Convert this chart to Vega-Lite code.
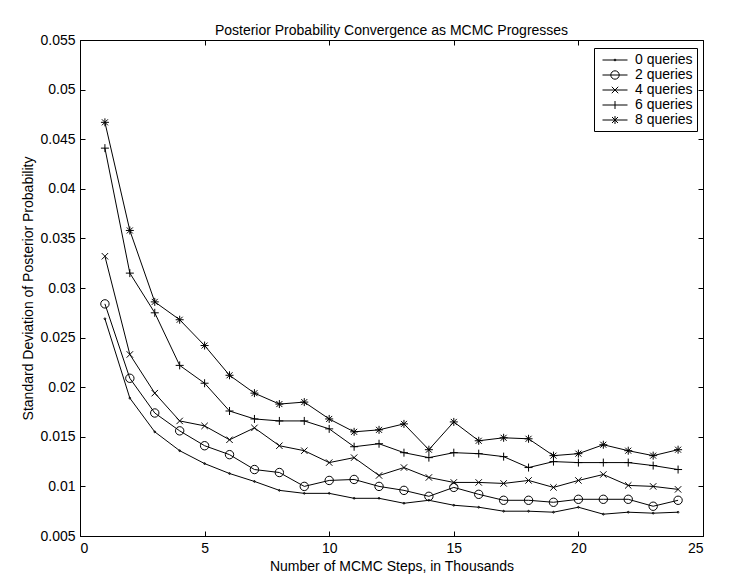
{
  "$schema": "https://vega.github.io/schema/vega-lite/v6.json",
  "width": 623,
  "height": 496,
  "autosize": {"type": "none"},
  "padding": {"left": 80, "top": 40, "right": 30, "bottom": 45},
  "background": "white",
  "title": {"text": "Posterior Probability Convergence as MCMC Progresses", "font": "Liberation Sans", "fontSize": 14, "fontWeight": "normal", "color": "black", "anchor": "middle", "offset": -5},
  "config": {
    "view": {"stroke": "black", "strokeWidth": 1},
    "axis": {"domainColor": "black", "tickColor": "black", "tickSize": -5, "grid": false, "labelFont": "Liberation Sans", "labelFontSize": 14, "labelColor": "black", "labelPadding": 10, "titleFont": "Liberation Sans", "titleFontSize": 14, "titleFontWeight": "normal", "titleColor": "black"}
  },
  "data": {"values": [
    {"steps": 1, "q": "0 queries", "sd": 0.0269}, {"steps": 2, "q": "0 queries", "sd": 0.0189}, {"steps": 3, "q": "0 queries", "sd": 0.0155}, {"steps": 4, "q": "0 queries", "sd": 0.0136}, {"steps": 5, "q": "0 queries", "sd": 0.0123}, {"steps": 6, "q": "0 queries", "sd": 0.0113}, {"steps": 7, "q": "0 queries", "sd": 0.0105}, {"steps": 8, "q": "0 queries", "sd": 0.0096}, {"steps": 9, "q": "0 queries", "sd": 0.0093}, {"steps": 10, "q": "0 queries", "sd": 0.0093}, {"steps": 11, "q": "0 queries", "sd": 0.0088}, {"steps": 12, "q": "0 queries", "sd": 0.0088}, {"steps": 13, "q": "0 queries", "sd": 0.0083}, {"steps": 14, "q": "0 queries", "sd": 0.0086}, {"steps": 15, "q": "0 queries", "sd": 0.0081}, {"steps": 16, "q": "0 queries", "sd": 0.0079}, {"steps": 17, "q": "0 queries", "sd": 0.0075}, {"steps": 18, "q": "0 queries", "sd": 0.0075}, {"steps": 19, "q": "0 queries", "sd": 0.0074}, {"steps": 20, "q": "0 queries", "sd": 0.0079}, {"steps": 21, "q": "0 queries", "sd": 0.0072}, {"steps": 22, "q": "0 queries", "sd": 0.0074}, {"steps": 23, "q": "0 queries", "sd": 0.0073}, {"steps": 24, "q": "0 queries", "sd": 0.0074},
    {"steps": 1, "q": "2 queries", "sd": 0.0284}, {"steps": 2, "q": "2 queries", "sd": 0.0209}, {"steps": 3, "q": "2 queries", "sd": 0.0174}, {"steps": 4, "q": "2 queries", "sd": 0.0156}, {"steps": 5, "q": "2 queries", "sd": 0.0141}, {"steps": 6, "q": "2 queries", "sd": 0.0132}, {"steps": 7, "q": "2 queries", "sd": 0.0117}, {"steps": 8, "q": "2 queries", "sd": 0.0114}, {"steps": 9, "q": "2 queries", "sd": 0.0100}, {"steps": 10, "q": "2 queries", "sd": 0.0106}, {"steps": 11, "q": "2 queries", "sd": 0.0107}, {"steps": 12, "q": "2 queries", "sd": 0.0100}, {"steps": 13, "q": "2 queries", "sd": 0.0096}, {"steps": 14, "q": "2 queries", "sd": 0.0090}, {"steps": 15, "q": "2 queries", "sd": 0.0099}, {"steps": 16, "q": "2 queries", "sd": 0.0092}, {"steps": 17, "q": "2 queries", "sd": 0.0086}, {"steps": 18, "q": "2 queries", "sd": 0.0086}, {"steps": 19, "q": "2 queries", "sd": 0.0084}, {"steps": 20, "q": "2 queries", "sd": 0.0087}, {"steps": 21, "q": "2 queries", "sd": 0.0087}, {"steps": 22, "q": "2 queries", "sd": 0.0087}, {"steps": 23, "q": "2 queries", "sd": 0.0080}, {"steps": 24, "q": "2 queries", "sd": 0.0086},
    {"steps": 1, "q": "4 queries", "sd": 0.0332}, {"steps": 2, "q": "4 queries", "sd": 0.0233}, {"steps": 3, "q": "4 queries", "sd": 0.0194}, {"steps": 4, "q": "4 queries", "sd": 0.0166}, {"steps": 5, "q": "4 queries", "sd": 0.0161}, {"steps": 6, "q": "4 queries", "sd": 0.0147}, {"steps": 7, "q": "4 queries", "sd": 0.0159}, {"steps": 8, "q": "4 queries", "sd": 0.0141}, {"steps": 9, "q": "4 queries", "sd": 0.0136}, {"steps": 10, "q": "4 queries", "sd": 0.0124}, {"steps": 11, "q": "4 queries", "sd": 0.0129}, {"steps": 12, "q": "4 queries", "sd": 0.0111}, {"steps": 13, "q": "4 queries", "sd": 0.0119}, {"steps": 14, "q": "4 queries", "sd": 0.0109}, {"steps": 15, "q": "4 queries", "sd": 0.0104}, {"steps": 16, "q": "4 queries", "sd": 0.0104}, {"steps": 17, "q": "4 queries", "sd": 0.0103}, {"steps": 18, "q": "4 queries", "sd": 0.0106}, {"steps": 19, "q": "4 queries", "sd": 0.0099}, {"steps": 20, "q": "4 queries", "sd": 0.0106}, {"steps": 21, "q": "4 queries", "sd": 0.0112}, {"steps": 22, "q": "4 queries", "sd": 0.0101}, {"steps": 23, "q": "4 queries", "sd": 0.0100}, {"steps": 24, "q": "4 queries", "sd": 0.0097},
    {"steps": 1, "q": "6 queries", "sd": 0.0441}, {"steps": 2, "q": "6 queries", "sd": 0.0315}, {"steps": 3, "q": "6 queries", "sd": 0.0275}, {"steps": 4, "q": "6 queries", "sd": 0.0222}, {"steps": 5, "q": "6 queries", "sd": 0.0204}, {"steps": 6, "q": "6 queries", "sd": 0.0176}, {"steps": 7, "q": "6 queries", "sd": 0.0168}, {"steps": 8, "q": "6 queries", "sd": 0.0166}, {"steps": 9, "q": "6 queries", "sd": 0.0166}, {"steps": 10, "q": "6 queries", "sd": 0.0158}, {"steps": 11, "q": "6 queries", "sd": 0.0140}, {"steps": 12, "q": "6 queries", "sd": 0.0143}, {"steps": 13, "q": "6 queries", "sd": 0.0134}, {"steps": 14, "q": "6 queries", "sd": 0.0129}, {"steps": 15, "q": "6 queries", "sd": 0.0134}, {"steps": 16, "q": "6 queries", "sd": 0.0133}, {"steps": 17, "q": "6 queries", "sd": 0.0130}, {"steps": 18, "q": "6 queries", "sd": 0.0119}, {"steps": 19, "q": "6 queries", "sd": 0.0125}, {"steps": 20, "q": "6 queries", "sd": 0.0124}, {"steps": 21, "q": "6 queries", "sd": 0.0124}, {"steps": 22, "q": "6 queries", "sd": 0.0124}, {"steps": 23, "q": "6 queries", "sd": 0.0121}, {"steps": 24, "q": "6 queries", "sd": 0.0117},
    {"steps": 1, "q": "8 queries", "sd": 0.0467}, {"steps": 2, "q": "8 queries", "sd": 0.0358}, {"steps": 3, "q": "8 queries", "sd": 0.0286}, {"steps": 4, "q": "8 queries", "sd": 0.0268}, {"steps": 5, "q": "8 queries", "sd": 0.0242}, {"steps": 6, "q": "8 queries", "sd": 0.0212}, {"steps": 7, "q": "8 queries", "sd": 0.0194}, {"steps": 8, "q": "8 queries", "sd": 0.0183}, {"steps": 9, "q": "8 queries", "sd": 0.0185}, {"steps": 10, "q": "8 queries", "sd": 0.0168}, {"steps": 11, "q": "8 queries", "sd": 0.0155}, {"steps": 12, "q": "8 queries", "sd": 0.0157}, {"steps": 13, "q": "8 queries", "sd": 0.0163}, {"steps": 14, "q": "8 queries", "sd": 0.0137}, {"steps": 15, "q": "8 queries", "sd": 0.0165}, {"steps": 16, "q": "8 queries", "sd": 0.0146}, {"steps": 17, "q": "8 queries", "sd": 0.0149}, {"steps": 18, "q": "8 queries", "sd": 0.0148}, {"steps": 19, "q": "8 queries", "sd": 0.0131}, {"steps": 20, "q": "8 queries", "sd": 0.0133}, {"steps": 21, "q": "8 queries", "sd": 0.0142}, {"steps": 22, "q": "8 queries", "sd": 0.0136}, {"steps": 23, "q": "8 queries", "sd": 0.0131}, {"steps": 24, "q": "8 queries", "sd": 0.0137}
  ]},
  "layer": [
    {
      "mark": {"type": "line", "color": "black", "strokeWidth": 1},
      "encoding": {
        "x": {"field": "steps", "type": "quantitative", "scale": {"domain": [0, 25], "nice": false, "zero": false}, "axis": {"orient": "bottom", "values": [0, 5, 10, 15, 20, 25], "title": "Number of MCMC Steps, in Thousands", "titlePadding": 4}},
        "y": {"field": "sd", "type": "quantitative", "scale": {"domain": [0.005, 0.055], "nice": false, "zero": false}, "axis": {"orient": "left", "values": [0.005, 0.01, 0.015, 0.02, 0.025, 0.03, 0.035, 0.04, 0.045, 0.05, 0.055], "format": "~g", "title": "Standard Deviation of Posterior Probability", "titlePadding": 4}},
        "detail": {"field": "q"}
      }
    },
    {
      "mark": {"type": "point", "filled": false, "color": "black", "stroke": "black", "strokeWidth": 1, "size": 64, "opacity": 1},
      "encoding": {
        "x": {"field": "steps", "type": "quantitative", "axis": {"orient": "top", "values": [0, 5, 10, 15, 20, 25], "labels": false, "title": null, "domain": false}},
        "y": {"field": "sd", "type": "quantitative", "axis": {"orient": "right", "values": [0.005, 0.01, 0.015, 0.02, 0.025, 0.03, 0.035, 0.04, 0.045, 0.05, 0.055], "labels": false, "title": null, "domain": false}},
        "shape": {
          "field": "q",
          "type": "nominal",
          "scale": {
            "domain": ["0 queries", "2 queries", "4 queries", "6 queries", "8 queries"],
            "range": [
              "M0.22,0A0.22,0.22 0 1,1 -0.22,0A0.22,0.22 0 1,1 0.22,0Z",
              "M1.05,0A1.05,1.05 0 1,1 -1.05,0A1.05,1.05 0 1,1 1.05,0Z",
              "M-0.8,-0.8L0.8,0.8M-0.8,0.8L0.8,-0.8",
              "M-1,0L1,0M0,-1L0,1",
              "M-1,0L1,0M0,-1L0,1M-0.75,-0.75L0.75,0.75M-0.75,0.75L0.75,-0.75"
            ]
          },
          "legend": null
        }
      }
    },
    {
      "mark": {"type": "point", "filled": false, "color": "black", "stroke": "black", "strokeWidth": 1, "opacity": 0},
      "encoding": {
        "x": {"field": "steps", "type": "quantitative", "axis": null},
        "y": {"field": "sd", "type": "quantitative", "axis": null},
        "shape": {
          "field": "q",
          "type": "nominal",
          "scale": {
            "domain": ["0 queries", "2 queries", "4 queries", "6 queries", "8 queries"],
            "range": [
              "M-1.667,0L1.667,0M0.12,0A0.12,0.12 0 1,1 -0.12,0A0.12,0.12 0 1,1 0.12,0Z",
              "M-1.667,0L1.667,0M0.56,0A0.56,0.56 0 1,1 -0.56,0A0.56,0.56 0 1,1 0.56,0Z",
              "M-1.667,0L1.667,0M-0.43,-0.43L0.43,0.43M-0.43,0.43L0.43,-0.43",
              "M-1.667,0L1.667,0M0,-0.53L0,0.53",
              "M-1.667,0L1.667,0M0,-0.53L0,0.53M-0.4,-0.4L0.4,0.4M-0.4,0.4L0.4,-0.4"
            ]
          },
          "legend": {
            "title": null,
            "orient": "none",
            "legendX": 514,
            "legendY": 8,
            "strokeColor": "black",
            "fillColor": "white",
            "padding": 4,
            "symbolSize": 225,
            "symbolOffset": 9,
            "symbolOpacity": 1,
            "symbolStrokeColor": "black",
            "symbolStrokeWidth": 1,
            "symbolFillColor": "transparent",
            "labelFont": "Liberation Sans",
            "labelFontSize": 14,
            "labelColor": "black",
            "labelOffset": 12,
            "rowPadding": 0,
            "cornerRadius": 0
          }
        }
      }
    }
  ],
  "resolve": {"scale": {"shape": "independent"}, "axis": {"x": "independent", "y": "independent"}}
}
